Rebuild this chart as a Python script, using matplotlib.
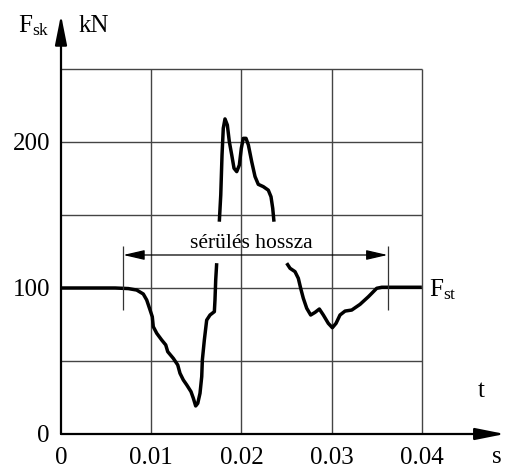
import numpy as np
import matplotlib
matplotlib.use("Agg")
import matplotlib.pyplot as plt

plt.rcParams['font.family'] = ['Liberation Serif', 'DejaVu Serif']
plt.rcParams['mathtext.fontset'] = 'custom'
plt.rcParams['mathtext.rm'] = 'Liberation Serif'
plt.rcParams['mathtext.it'] = 'Liberation Serif'

# force curve (t in s, F in kN), three separate pieces
t_drop = [0.0, 0.0060, 0.00746, 0.00839, 0.00912, 0.0095, 0.00987, 0.01012,
          0.01023, 0.01061, 0.01116, 0.01161, 0.01183, 0.01245, 0.01294,
          0.01319, 0.01356, 0.01394, 0.01441, 0.01467, 0.01493, 0.01516,
          0.01541, 0.0156, 0.01567, 0.01589, 0.01615, 0.01652, 0.017,
          0.01707, 0.01715, 0.01726]
F_drop = [100, 100, 99.6, 98.6, 95.9, 91.8, 85, 80.3, 73.5, 69, 64.4, 61,
          56.4, 51.8, 47.3, 41.6, 37, 33.6, 29, 24.5, 19.2, 21, 27.9, 39.3,
          50.7, 64.4, 78, 81.5, 83.8, 91.8, 105.5, 117]

t_peak = [0.01755, 0.01771, 0.01785, 0.01799, 0.01818, 0.01844, 0.01866,
          0.01893, 0.01918, 0.01948, 0.01977, 0.01999, 0.02021, 0.02051,
          0.02077, 0.02114, 0.02151, 0.02187, 0.02243, 0.02298, 0.02328,
          0.02347, 0.02361]
F_peak = [145.4, 163.7, 191, 209.4, 215.8, 211.6, 200.2, 191, 182, 179.7,
          184.2, 195.7, 202.5, 202.5, 198, 186.5, 176.3, 171, 169.4, 167,
          162.5, 154.6, 145.4]

t_back = [0.02502, 0.02539, 0.02594, 0.02631, 0.02657, 0.02686, 0.02724,
          0.02768, 0.02816, 0.02864, 0.02908, 0.02963, 0.03008, 0.03049,
          0.03093, 0.03149, 0.03223, 0.03315, 0.03407, 0.035, 0.03556, 0.0400]
F_back = [117, 113.5, 111.2, 106.6, 99.8, 93, 86.1, 81.5, 83.3, 85.6, 81.5,
          75.8, 72.8, 75.8, 81.5, 84.2, 84.9, 88.8, 94, 99.8, 100.5, 100.5]

x_ticks = [0, 0.01, 0.02, 0.03, 0.04]
x_labels = ['0', '0.01', '0.02', '0.03', '0.04']
y_ticks = [0, 100, 200]
grid_y = [50, 100, 150, 200, 250]

# damage length (sérülés hossza)
dmg_start, dmg_end, dmg_level = 0.0069, 0.0362, 122.6

fig = plt.figure(figsize=(5.05, 4.70), dpi=100)
ax = fig.add_axes([61 / 505, 36 / 470, 444 / 505, 424 / 470])
ax.set_xlim(0, 0.04922)
ax.set_ylim(0, 290.4)
for s in ax.spines.values():
    s.set_visible(False)

# grid
ax.vlines(x_ticks[1:], 0, 250, color='#444444', lw=1.0)
ax.hlines(grid_y, 0, 0.04, color='#444444', lw=1.0)

# axes with arrows
ax.annotate('', xy=(0, 287), xytext=(0, 0),
            arrowprops=dict(arrowstyle='-|>,head_length=0.9,head_width=0.18',
                            mutation_scale=20, color='black', lw=1.6,
                            shrinkA=0, shrinkB=0))
ax.annotate('', xy=(0.0492, 0), xytext=(0, 0),
            arrowprops=dict(arrowstyle='-|>,head_length=0.9,head_width=0.18',
                            mutation_scale=20, color='black', lw=1.6,
                            shrinkA=0, shrinkB=0), annotation_clip=False)

# curve
for tt, ff in [(t_drop, F_drop), (t_peak, F_peak), (t_back, F_back)]:
    ax.plot(tt, ff, color='black', lw=2.5, solid_capstyle='butt',
            solid_joinstyle='round')

# dimension line
ax.vlines([dmg_start, dmg_end], 85, 129, color='#333333', lw=0.9)
ax.annotate('', xy=(dmg_end, dmg_level), xytext=(dmg_start, dmg_level),
            arrowprops=dict(arrowstyle='<|-|>,head_length=0.65,head_width=0.15',
                            mutation_scale=20, color='black', lw=0.9,
                            shrinkA=0, shrinkB=0))
ax.text(0.0211, 127.5, 'sérülés hossza', fontsize=15.5, ha='center',
        va='baseline')

# ticks
ax.set_xticks(x_ticks, x_labels)
ax.set_yticks(y_ticks, [str(v) for v in y_ticks])
ax.tick_params(axis='both', length=0, labelsize=18)
ax.tick_params(axis='x', pad=9)
ax.tick_params(axis='y', pad=8)

# labels
ax.text(-0.00475, 275, r'F$_{\mathrm{sk}}$', fontsize=18, va='baseline',
        ha='left')
ax.text(0.0019, 275, 'kN', fontsize=18, va='baseline', ha='left')
ax.text(0.0408, 94, r'F$_{\mathrm{st}}$', fontsize=18, va='baseline',
        ha='left')
ax.text(0.0466, 29.5, 't', fontsize=18, va='center', ha='center')
ax.text(0.0483, -15.5, 's', fontsize=18, va='center', ha='center')

fig.savefig('out.png', dpi=100)
